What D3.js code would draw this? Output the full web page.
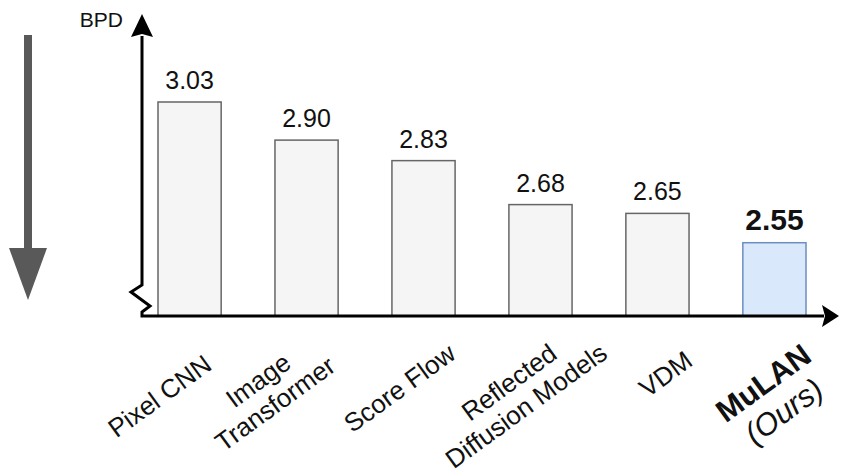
<!DOCTYPE html>
<html>
<head>
<meta charset="utf-8">
<script src="https://cdn.jsdelivr.net/npm/d3@7"></script>
<style>
  html, body { margin: 0; padding: 0; background: #ffffff; }
  svg { display: block; font-family: "Liberation Sans", Arial, Helvetica, sans-serif; }
</style>
</head>
<body>
<svg id="chart" width="842" height="473"></svg>
<script>
// Bits per dimension of each model (lower is better)
const models = ["Pixel CNN", "Image Transformer", "Score Flow", "Reflected Diffusion Models", "VDM", "MuLAN"];
const labelLines = [["Pixel CNN"], ["Image", "Transformer"], ["Score Flow"], ["Reflected", "Diffusion Models"], ["VDM"], ["MuLAN", "(Ours)"]];
const bpd = [3.03, 2.90, 2.83, 2.68, 2.65, 2.55];
const valueLabels = ["3.03", "2.90", "2.83", "2.68", "2.65", "2.55"];
const highlighted = ["MuLAN"];
const yAxisTitle = "BPD";

const svg = d3.select("#chart");

const baseY = 316, axisX = 142;

const x = d3.scaleBand().domain(models).range([158, 806]).paddingInner(0.46).paddingOuter(0);
// broken axis: the value scale starts above zero
const y = d3.scaleLinear().domain([2.3, 3.03]).range([baseY, 102]);

// "lower is better" arrow on the far left
svg.append("rect").attr("x", 24).attr("y", 35).attr("width", 8).attr("height", 214).attr("fill", "#595959");
svg.append("path").attr("d", "M9,248 L47,248 L28,300 Z").attr("fill", "#595959");

// bars
svg.append("g").selectAll("rect").data(models).join("rect")
  .attr("x", d => x(d))
  .attr("y", (d, i) => y(bpd[i]))
  .attr("width", x.bandwidth())
  .attr("height", (d, i) => baseY - y(bpd[i]))
  .attr("fill", d => highlighted.includes(d) ? "#dae8fc" : "#f5f5f5")
  .attr("stroke", d => highlighted.includes(d) ? "#6c8ebf" : "#666666")
  .attr("stroke-width", 1.5);

// value labels
svg.append("g").selectAll("text").data(models).join("text")
  .attr("x", d => x(d) + x.bandwidth() / 2)
  .attr("y", (d, i) => y(bpd[i]) - 13)
  .attr("text-anchor", "middle")
  .attr("font-size", d => highlighted.includes(d) ? 30 : 25)
  .attr("font-weight", d => highlighted.includes(d) ? "bold" : "normal")
  .attr("fill", "#111")
  .text((d, i) => valueLabels[i]);

// axes with break mark
svg.append("path")
  .attr("d", `M${axisX},36 V285 L131,292 L150,306 L${axisX},312 V${baseY} H824`)
  .attr("fill", "none").attr("stroke", "#000").attr("stroke-width", 3).attr("stroke-linejoin", "miter");
svg.append("path").attr("d", `M${axisX},14 L${axisX - 11},37 L${axisX},34 L${axisX + 11},37 Z`).attr("fill", "#000");
svg.append("path").attr("d", `M839,${baseY} L822,${baseY - 11} L825,${baseY} L822,${baseY + 11} Z`).attr("fill", "#000");

svg.append("text").attr("x", 123).attr("y", 27).attr("text-anchor", "end")
  .attr("font-size", 21).attr("fill", "#111").text(yAxisTitle);

// rotated category labels, centred under each bar with a per-label nudge
const nudge = [[-30, 396], [-40, 392], [-24, 388], [-23, 394], [8, 374], [-1, 397]];
const cat = svg.append("g").selectAll("g").data(models).join("g")
  .attr("transform", (d, i) => `translate(${x(d) + x.bandwidth() / 2 + nudge[i][0]},${nudge[i][1]}) rotate(-36)`);
cat.each(function (d, i) {
  const g = d3.select(this);
  const lines = labelLines[i];
  const isOurs = highlighted.includes(d);
  const lh = isOurs ? 35 : 29;
  lines.forEach((t, j) => {
    g.append("text")
      .attr("x", 0)
      .attr("y", (j - (lines.length - 1) / 2) * lh)
      .attr("dy", "0.35em")
      .attr("text-anchor", "middle")
      .attr("font-size", isOurs ? 31 : 26)
      .attr("font-weight", isOurs && j === 0 ? "bold" : "normal")
      .attr("font-style", isOurs && j === 1 ? "italic" : "normal")
      .attr("fill", "#111")
      .text(t);
  });
});
</script>
</body>
</html>
